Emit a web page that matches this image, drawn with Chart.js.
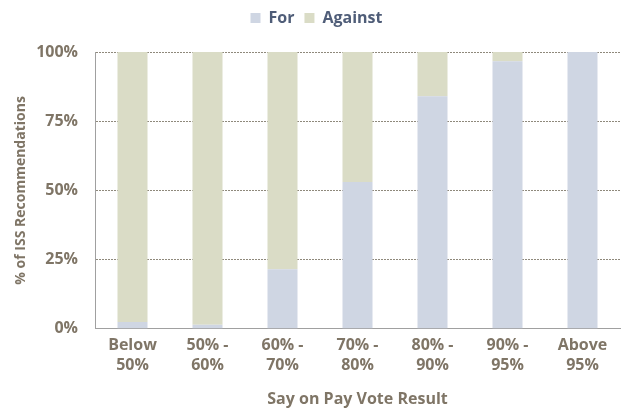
<!DOCTYPE html>
<html lang="en">
<head>
    <meta charset="UTF-8">
    <title>ISS Recommendations by Say on Pay Vote Result</title>
    <script src="https://cdn.jsdelivr.net/npm/chart.js"></script>
    <style>
        body { margin: 0; background: #fff; }
        .wrap { width: 623px; height: 409px; }
    </style>
</head>
<body>
    <div class="wrap"><canvas id="chart"></canvas></div>
    <script>
        const categories = [['Below', '50%'], ['50% -', '60%'], ['60% -', '70%'], ['70% -', '80%'], ['80% -', '90%'], ['90% -', '95%'], ['Above', '95%']];
        const forValues = [2.5, 1.5, 21.5, 53, 84, 96.7, 100];
        const againstValues = [97.5, 98.5, 78.5, 47, 16, 3.3, 0];
        const yTicks = [0, 25, 50, 75, 100];

        const textColor = '#7f7566';
        const fontFamily = '"Open Sans", Lato, sans-serif';

        // push the plot area down below the legend
        const legendGap = {
            id: 'legendGap',
            beforeInit(chart) {
                const fit = chart.legend.fit;
                chart.legend.fit = function () {
                    fit.bind(chart.legend)();
                    this.height += 16;
                };
            }
        };

        new Chart(document.getElementById('chart'), {
            type: 'bar',
            data: {
                labels: categories,
                datasets: [
                    { label: 'For', data: forValues, backgroundColor: '#cfd6e3', borderWidth: 0 },
                    { label: 'Against', data: againstValues, backgroundColor: '#dadcc6', borderWidth: 0 }
                ]
            },
            options: {
                responsive: true,
                maintainAspectRatio: false,
                animation: false,
                layout: { padding: { left: 13, right: 3, top: 0, bottom: 0 } },
                datasets: { bar: { barPercentage: 0.4, categoryPercentage: 1 } },
                plugins: {
                    tooltip: { enabled: false },
                    legend: {
                        position: 'top',
                        labels: {
                            color: '#4f5d78',
                            font: { family: fontFamily, size: 16, weight: 'bold' },
                            boxWidth: 10,
                            boxHeight: 10,
                            padding: 10
                        }
                    }
                },
                scales: {
                    x: {
                        stacked: true,
                        grid: { display: false, drawTicks: false },
                        border: { color: '#a0a0a0', width: 1 },
                        ticks: {
                            color: textColor,
                            font: { family: fontFamily, size: 16, weight: 'bold', lineHeight: 1.25 },
                            maxRotation: 0,
                            padding: 7
                        },
                        title: {
                            display: true,
                            text: 'Say on Pay Vote Result',
                            color: textColor,
                            font: { family: fontFamily, size: 16, weight: 'bold', lineHeight: 1.2 },
                            padding: { top: 7, bottom: 0 }
                        }
                    },
                    y: {
                        stacked: true,
                        min: 0,
                        max: 100,
                        afterBuildTicks: axis => { axis.ticks = yTicks.map(v => ({ value: v })); },
                        afterFit: axis => { axis.width = 82; },
                        grid: {
                            color: ctx => ctx.tick.value === 0 ? 'rgba(0,0,0,0)' : '#8f897c',
                            drawTicks: false,
                            lineWidth: 1
                        },
                        border: { color: '#a0a0a0', width: 1, dash: [2, 1] },
                        ticks: {
                            color: textColor,
                            font: { family: fontFamily, size: 16, weight: 'bold' },
                            padding: 17,
                            callback: v => v + '%'
                        },
                        title: {
                            display: true,
                            text: '% of ISS Recommendations',
                            color: textColor,
                            font: { family: fontFamily, size: 14, weight: 'bold' },
                            padding: { top: 0, bottom: 0 }
                        }
                    }
                }
            },
            plugins: [legendGap]
        });
    </script>
</body>
</html>
